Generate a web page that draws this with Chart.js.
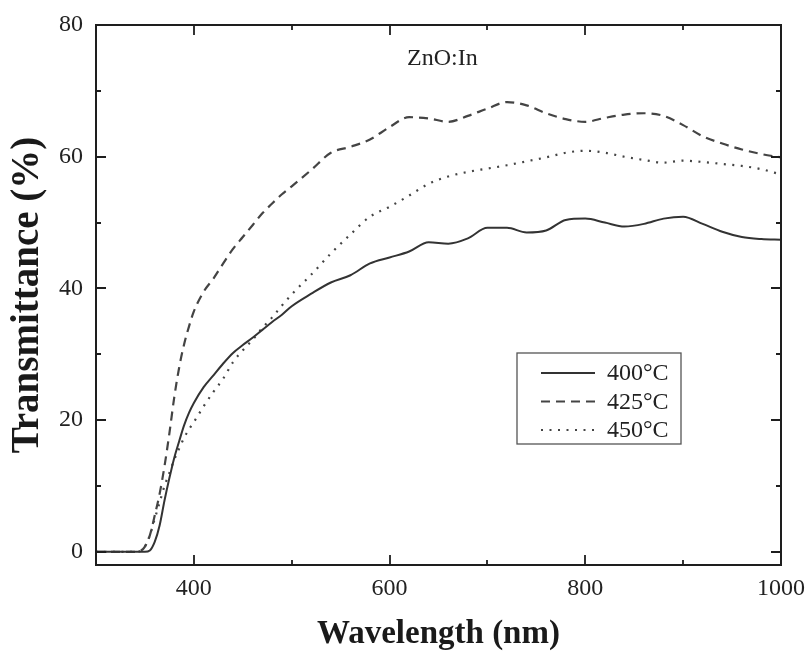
<!DOCTYPE html>
<html>
<head>
<meta charset="utf-8">
<script src="https://cdn.jsdelivr.net/npm/chart.js@4.4.0/dist/chart.umd.min.js"></script>
<style>
  html, body { margin: 0; padding: 0; background: #fff; }
  canvas { display: block; }
</style>
</head>
<body>
<canvas id="c" width="807" height="651"></canvas>
<script>
// ---- data ----
const wavelength = [300, 340, 345, 350, 355, 360, 365, 370, 375, 380, 385, 390, 395, 400, 410, 420, 430, 440, 450, 460, 470, 480, 490, 500, 520, 540, 560, 580, 600, 620, 640, 660, 680, 700, 720, 740, 760, 780, 800, 820, 840, 860, 880, 900, 920, 940, 960, 980, 1000];
const t400 = [0, 0, 0, 0, 0.2, 1.5, 4.0, 7.8, 11.2, 14.3, 16.8, 19.2, 21.1, 22.6, 25.0, 26.8, 28.6, 30.2, 31.4, 32.5, 33.7, 34.9, 36.0, 37.3, 39.2, 40.9, 42.0, 43.8, 44.7, 45.6, 47.0, 46.8, 47.6, 49.2, 49.2, 48.5, 48.8, 50.4, 50.6, 50.0, 49.4, 49.8, 50.6, 50.9, 49.8, 48.6, 47.8, 47.5, 47.4];
const t425 = [0, 0, 0.1, 0.8, 2.5, 5.5, 8.8, 13.0, 18.0, 23.5, 28.0, 31.5, 34.2, 36.5, 39.5, 41.5, 43.8, 46.0, 47.8, 49.6, 51.4, 52.9, 54.3, 55.5, 58.0, 60.6, 61.5, 62.6, 64.5, 66.0, 65.8, 65.3, 66.2, 67.3, 68.3, 67.8, 66.6, 65.7, 65.3, 65.9, 66.4, 66.6, 66.2, 64.8, 63.1, 62.0, 61.1, 60.4, 59.9];
const t450 = [0, 0, 0.1, 0.8, 2.5, 5.0, 7.5, 10.0, 12.0, 14.0, 15.7, 17.3, 18.6, 19.7, 22.1, 24.3, 26.3, 28.8, 30.6, 32.2, 34.0, 35.6, 37.4, 39.1, 42.1, 45.3, 48.2, 50.9, 52.4, 54.1, 55.9, 57.0, 57.7, 58.2, 58.7, 59.3, 59.9, 60.6, 60.9, 60.6, 60.0, 59.5, 59.1, 59.4, 59.2, 58.9, 58.6, 58.1, 57.3];
const seriesNames = ['400°C', '425°C', '450°C'];
const xTicks = [400, 500, 600, 700, 800, 900, 1000];
const xLabels = [400, 600, 800, 1000];
const yTicks = [0, 10, 20, 30, 40, 50, 60, 70, 80];
const yLabels = [0, 20, 40, 60, 80];
const annotation = 'ZnO:In';
const xTitle = 'Wavelength (nm)';
const yTitle = 'Transmittance (%)';

const FONT = "'Liberation Serif', 'Times New Roman', serif";
const AXIS = '#1e1e1e';

const toPts = arr => wavelength.map((w, i) => ({ x: w, y: arr[i] }));

const framePlugin = {
  id: 'frame',
  afterDraw(chart) {
    const { ctx, chartArea: a, scales: { x, y } } = chart;
    ctx.save();
    ctx.strokeStyle = AXIS;
    ctx.lineWidth = 2;
    ctx.strokeRect(a.left, a.top, a.right - a.left, a.bottom - a.top);
    ctx.lineWidth = 1.8;
    ctx.beginPath();
    xTicks.forEach(v => {
      const px = Math.round(x.getPixelForValue(v));
      const len = xLabels.includes(v) ? 10 : 5;
      ctx.moveTo(px, a.bottom); ctx.lineTo(px, a.bottom - len);
      ctx.moveTo(px, a.top); ctx.lineTo(px, a.top + len);
    });
    yTicks.forEach(v => {
      const py = Math.round(y.getPixelForValue(v));
      const len = yLabels.includes(v) ? 10 : 5;
      ctx.moveTo(a.left, py); ctx.lineTo(a.left + len, py);
      ctx.moveTo(a.right, py); ctx.lineTo(a.right - len, py);
    });
    ctx.stroke();

    // annotation
    ctx.fillStyle = '#222';
    ctx.font = '24px ' + FONT;
    ctx.textAlign = 'center';
    ctx.textBaseline = 'alphabetic';
    ctx.fillText(annotation, x.getPixelForValue(654), y.getPixelForValue(74.0));

    // legend box
    const bx = 517, by = 353, bw = 164, bh = 91;
    ctx.strokeStyle = '#555';
    ctx.lineWidth = 1.3;
    ctx.strokeRect(bx, by, bw, bh);
    ctx.font = '24px ' + FONT;
    ctx.textAlign = 'left';
    ctx.textBaseline = 'middle';
    chart.data.datasets.forEach((ds, i) => {
      const ry = by + 20 + i * 28.5;
      ctx.strokeStyle = ds.borderColor;
      ctx.lineWidth = ds.borderWidth;
      ctx.setLineDash(ds.borderDash || []);
      ctx.beginPath();
      ctx.moveTo(bx + 24, ry); ctx.lineTo(bx + 78, ry);
      ctx.stroke();
      ctx.setLineDash([]);
      ctx.fillStyle = '#222';
      ctx.fillText(ds.label, bx + 90, ry + 1);
    });
    ctx.restore();
  }
};

new Chart(document.getElementById('c'), {
  type: 'line',
  data: {
    datasets: [
      { label: seriesNames[0], data: toPts(t400), borderColor: '#333', borderWidth: 2, pointRadius: 0, cubicInterpolationMode: 'monotone' },
      { label: seriesNames[1], data: toPts(t425), borderColor: '#444', borderWidth: 2.2, borderDash: [9, 6], pointRadius: 0, cubicInterpolationMode: 'monotone' },
      { label: seriesNames[2], data: toPts(t450), borderColor: '#444', borderWidth: 2.2, borderDash: [2, 6.5], pointRadius: 0, cubicInterpolationMode: 'monotone' }
    ]
  },
  options: {
    responsive: false,
    animation: false,
    events: [],
    layout: { padding: { top: 25, right: 26, left: 0, bottom: 0 } },
    plugins: { legend: { display: false }, tooltip: { enabled: false } },
    scales: {
      x: {
        type: 'linear', min: 300, max: 1000,
        grid: { display: false, drawTicks: false },
        border: { display: false },
        afterBuildTicks: s => { s.ticks = xTicks.map(v => ({ value: v })); },
        afterFit: s => { s.height = 86; s.paddingLeft = 0; s.paddingRight = 0; },
        ticks: {
          padding: 9, maxRotation: 0, autoSkip: false,
          color: '#222', font: { family: FONT, size: 24 },
          callback: v => xLabels.includes(v) ? String(v) : ''
        },
        title: { display: true, text: xTitle, color: '#1a1a1a', font: { family: FONT, size: 33, weight: 'bold', lineHeight: 1 }, padding: { top: 0, bottom: 0 } }
      },
      y: {
        type: 'linear', min: -2, max: 80,
        grid: { display: false, drawTicks: false },
        border: { display: false },
        afterBuildTicks: s => { s.ticks = yTicks.map(v => ({ value: v })); },
        afterFit: s => { s.width = 96; s.paddingTop = 0; s.paddingBottom = 0; },
        ticks: {
          padding: 13, autoSkip: false,
          color: '#222', font: { family: FONT, size: 24 },
          callback: v => yLabels.includes(v) ? String(v) : ''
        },
        title: { display: true, text: yTitle, color: '#1a1a1a', font: { family: FONT, size: 39, weight: 'bold', lineHeight: 1 }, padding: { top: 8, bottom: 0 } }
      }
    }
  },
  plugins: [framePlugin]
});
</script>
</body>
</html>
